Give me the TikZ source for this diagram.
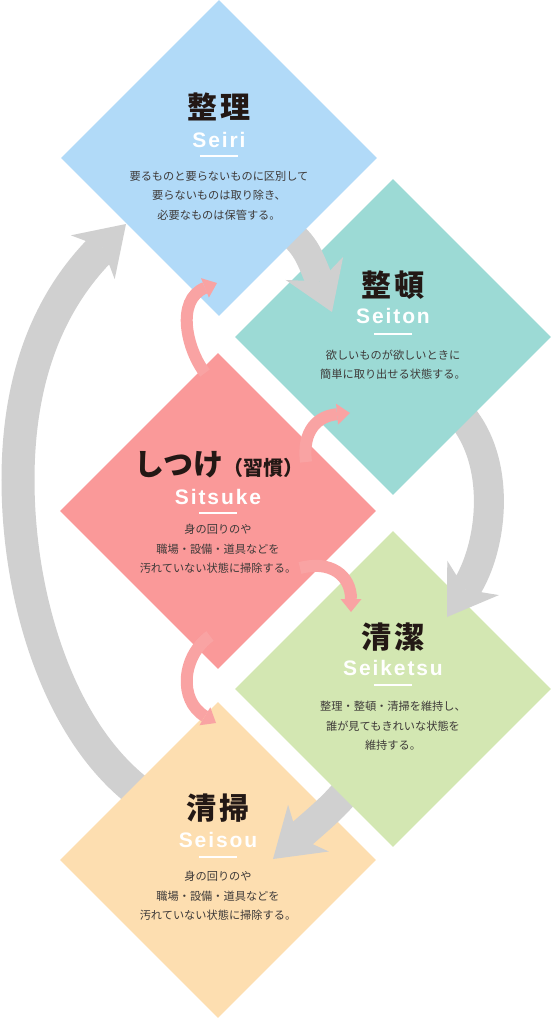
\documentclass[tikz,border=0pt]{standalone}
\usepackage{fontspec}
\usetikzlibrary{arrows.meta,shapes.geometric}
\newfontfamily\jpfont{Noto Sans CJK JP}
\newfontfamily\jpttl[LetterSpace=12]{Noto Sans CJK JP}
\newfontfamily\romfont[LetterSpace=9]{Liberation Sans}
\definecolor{cblue}{HTML}{B1DAF8}
\definecolor{cteal}{HTML}{9CDAD5}
\definecolor{cpink}{HTML}{FA9999}
\definecolor{cgreen}{HTML}{D3E7B2}
\definecolor{corange}{HTML}{FDDEB0}
\definecolor{arrgray}{HTML}{D0D0D0}
\definecolor{arrpink}{HTML}{F9A3A3}
\definecolor{ttltext}{HTML}{231815}
\definecolor{bodytext}{HTML}{3E3A39}
\begin{document}
\begin{tikzpicture}[x=1pt,y=-1pt,
  dia/.style={shape=diamond, aspect=1, minimum width=316pt, minimum height=316pt, inner sep=0pt, draw=none},
  ttl/.style={font=\jpttl\bfseries\fontsize{30}{30}\selectfont, text=ttltext, inner sep=0pt},
  rom/.style={font=\romfont\bfseries\fontsize{21}{21}\selectfont, text=white, inner sep=0pt},
  bar/.style={fill=white, minimum width=38pt, minimum height=2.5pt, inner sep=0pt, draw=none},
  body/.style={font=\jpfont\fontsize{11.2}{19.5}\selectfont, text=bodytext, align=center, inner sep=0pt},
  grayarr/.style={draw=arrgray, line width=30pt, -{Stealth[length=47pt,width=62pt,inset=14pt,line width=0pt]}},
  pinkarr/.style={draw=arrpink, line width=12pt, -{Triangle[length=13pt,width=21pt,line width=0pt]}}
]
\fill[white] (0,0) rectangle (556,1024);
\useasboundingbox (0,0) rectangle (556,1024);

% connector end points
\coordinate (g1s) at (270,215);
\coordinate (g1e) at (332,312);
\coordinate (g2s) at (445,400);
\coordinate (g2e) at (447,617);
\coordinate (g3s) at (360,775);
\coordinate (g3e) at (273,859);
\coordinate (g4s) at (150,800);
\coordinate (g4e) at (126,224);

% big return arrow (Seisou -> Seiri)
\draw[grayarr, line width=33pt] (g4s) .. controls (60,740) and (18,600) .. (18,480)
   .. controls (18,360) and (60,290) .. (g4e);

\node[dia, fill=corange] (d5) at (218,860) {};
\draw[grayarr] (g3s) .. controls (335,805) .. (g3e);
\node[dia, fill=cgreen] (d4) at (393,689) {};
\draw[grayarr] (g2s) .. controls (505,445) and (495,545) .. (g2e);
\node[dia, fill=cteal] (d2) at (393,337) {};
\draw[grayarr, line width=28pt] (g1s) .. controls (305,245) .. (g1e);
\node[dia, fill=cblue] (d1) at (219,158) {};
\node[dia, fill=cpink] (d3) at (218,511) {};

% texts: Seiri
\node[ttl] (t1) at (219,107) {整理};
\node[rom] (r1) at (219,139.5) {Seiri};
\node[bar] (b1) at (219,156) {};
\node[body] (x1) at (219,195.5) {要るものと要らないものに区別して\\要らないものは取り除き、\\必要なものは保管する。};

% Seiton
\node[ttl] (t2) at (393,285) {整頓};
\node[rom] (r2) at (393,316) {Seiton};
\node[bar] (b2) at (393,334) {};
\node[body] (x2) at (393,364.5) {欲しいものが欲しいときに\\簡単に取り出せる状態する。};

% Sitsuke
\node[font=\jpfont\bfseries\fontsize{30}{30}\selectfont, text=ttltext, inner sep=0pt] (t3) at (219,465) {しつけ{\fontsize{20}{20}\selectfont（習慣）}};
\node[rom] (r3) at (218,497) {Sitsuke};
\node[bar] (b3) at (218,513) {};
\node[body] (x3) at (218,549) {身の回りのや\\職場・設備・道具などを\\汚れていない状態に掃除する。};

% Seiketsu
\node[ttl] (t4) at (393,637) {清潔};
\node[rom] (r4) at (393,668) {Seiketsu};
\node[bar] (b4) at (393,685) {};
\node[body] (x4) at (393,726) {整理・整頓・清掃を維持し、\\誰が見てもきれいな状態を\\維持する。};

% Seisou
\node[ttl] (t5) at (218,808) {清掃};
\node[rom] (r5) at (218,840) {Seisou};
\node[bar] (b5) at (218,857) {};
\node[body] (x5) at (218,896) {身の回りのや\\職場・設備・道具などを\\汚れていない状態に掃除する。};

% pink arrows from Sitsuke
\coordinate (pa) at (205,373);
\coordinate (pae) at (217,283);
\coordinate (pb) at (306,462);
\coordinate (pbe) at (350,413);
\coordinate (pc) at (300,568);
\coordinate (pce) at (351,612);
\coordinate (pd) at (210,636);
\coordinate (pde) at (216,723);
\draw[pinkarr] (pa) .. controls (187,350) and (175,300) .. (pae);
\draw[pinkarr] (pb) .. controls (302,430) and (318,416) .. (pbe);
\draw[pinkarr] (pc) .. controls (330,560) and (351,575) .. (pce);
\draw[pinkarr] (pd) .. controls (182,656) and (178,700) .. (pde);
\end{tikzpicture}
\end{document}
